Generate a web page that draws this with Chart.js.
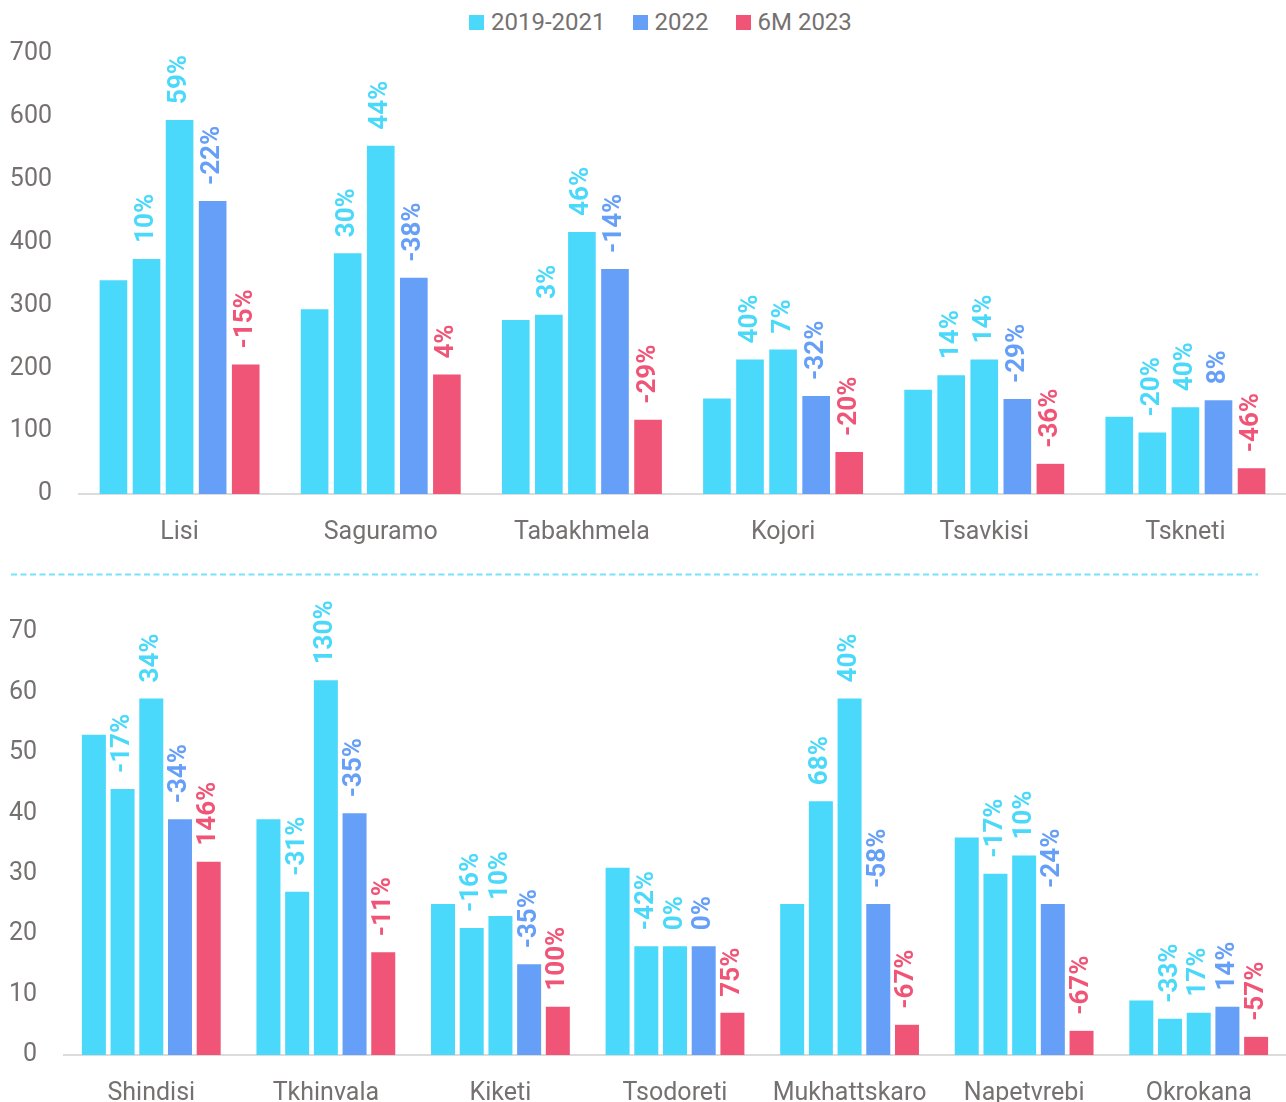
<!DOCTYPE html>
<html>
<head>
<meta charset="utf-8">
<script src="https://cdn.jsdelivr.net/npm/chart.js@4.4.1/dist/chart.umd.min.js"></script>
<style>
html, body { margin: 0; padding: 0; background: #fff; overflow: hidden; width: 1286px; height: 1102px; }
#legend { position: absolute; left: 469px; top: 8px; display: flex; gap: 27px; font: 24px Roboto; color: #767171; }
#legend .item { display: flex; align-items: center; }
#legend .box { width: 15px; height: 15px; margin-right: 7px; }
#top { position: absolute; left: 0; top: 0; }
#bottom { position: absolute; left: 0; top: 590px; }
</style>
</head>
<body>
<div id="legend"></div>
<canvas id="top" width="1286" height="590"></canvas>
<canvas id="bottom" width="1286" height="530"></canvas>
<script>
// colours
var cyan = '#4ad9fa', blue = '#669ff7', red = '#f05577', grey = '#767171';

var legendNames = ['2019-2021', '2022', '6M 2023'];
var legendColors = [cyan, blue, red];

// upper panel
var topCats = ['Lisi', 'Saguramo', 'Tabakhmela', 'Kojori', 'Tsavkisi', 'Tskneti'];
var top2019 = [340, 294, 277, 152, 166, 123];
var top2020 = [374, 383, 285, 214, 189, 98];
var top2021 = [595, 554, 417, 230, 214, 138];
var top2022 = [466, 344, 358, 156, 151, 149];
var top2023 = [206, 190, 118, 67, 48, 41];
var topPct2020 = ['10%', '30%', '3%', '40%', '14%', '-20%'];
var topPct2021 = ['59%', '44%', '46%', '7%', '14%', '40%'];
var topPct2022 = ['-22%', '-38%', '-14%', '-32%', '-29%', '8%'];
var topPct2023 = ['-15%', '4%', '-29%', '-20%', '-36%', '-46%'];
var topTicks = [0, 100, 200, 300, 400, 500, 600, 700];

// lower panel
var botCats = ['Shindisi', 'Tkhinvala', 'Kiketi', 'Tsodoreti', 'Mukhattskaro', 'Napetvrebi', 'Okrokana'];
var bot2019 = [53, 39, 25, 31, 25, 36, 9];
var bot2020 = [44, 27, 21, 18, 42, 30, 6];
var bot2021 = [59, 62, 23, 18, 59, 33, 7];
var bot2022 = [39, 40, 15, 18, 25, 25, 8];
var bot2023 = [32, 17, 8, 7, 5, 4, 3];
var botPct2020 = ['-17%', '-31%', '-16%', '-42%', '68%', '-17%', '-33%'];
var botPct2021 = ['34%', '130%', '10%', '0%', '40%', '10%', '17%'];
var botPct2022 = ['-34%', '-35%', '-35%', '0%', '-58%', '-24%', '14%'];
var botPct2023 = ['146%', '-11%', '100%', '75%', '-67%', '-67%', '-57%'];
var botTicks = [0, 10, 20, 30, 40, 50, 60, 70];

Chart.defaults.font.family = 'Roboto';

// html legend
var lg = document.getElementById('legend');
legendNames.forEach(function (name, i) {
    var it = document.createElement('div');
    it.className = 'item';
    it.innerHTML = '<span class="box" style="background:' + legendColors[i] + '"></span><span>' + name + '</span>';
    lg.appendChild(it);
});

// rotated percent labels above the bars
var pctLabels = {
    id: 'pctLabels',
    afterDatasetsDraw: function (chart) {
        var ctx = chart.ctx;
        ctx.save();
        ctx.font = 'bold 26px Roboto';
        ctx.textAlign = 'left';
        ctx.textBaseline = 'middle';
        chart.data.datasets.forEach(function (ds, di) {
            if (!ds.pct) return;
            ctx.fillStyle = ds.backgroundColor;
            chart.getDatasetMeta(di).data.forEach(function (bar, i) {
                ctx.save();
                ctx.translate(bar.x, bar.y - 16);
                ctx.rotate(-Math.PI / 2);
                ctx.fillText(ds.pct[i], 0, 0);
                ctx.restore();
            });
        });
        ctx.restore();
    }
};

// dashed separator between the panels
var divider = {
    id: 'divider',
    afterDraw: function (chart) {
        var c = chart.ctx;
        c.save();
        c.strokeStyle = 'rgba(74,217,250,0.75)';
        c.lineWidth = 2;
        c.setLineDash([6, 3.5]);
        c.beginPath();
        c.moveTo(11, 574.5);
        c.lineTo(1258, 574.5);
        c.stroke();
        c.restore();
    }
};

function makeChart(id, cats, series, pcts, ticks, yWidth, xHeight, padTop, extraPlugins) {
    var colors = [cyan, cyan, cyan, blue, red];
    var datasets = series.map(function (s, i) {
        return {
            data: s,
            backgroundColor: colors[i],
            borderWidth: 0,
            pct: pcts[i],
            categoryPercentage: 0.822,
            barPercentage: 0.836
        };
    });
    return new Chart(document.getElementById(id), {
        type: 'bar',
        data: { labels: cats, datasets: datasets },
        options: {
            responsive: false,
            animation: false,
            events: [],
            layout: { padding: { top: padTop, left: 0, right: 0, bottom: 0 } },
            plugins: { legend: { display: false }, tooltip: { enabled: false } },
            scales: {
                x: {
                    grid: { display: false, drawTicks: false },
                    border: { color: '#dcdcdc', width: 2 },
                    ticks: { color: grey, font: { size: 25 }, padding: 24, maxRotation: 0 },
                    afterFit: function (s) { s.height = xHeight; }
                },
                y: {
                    min: ticks[0],
                    max: ticks[ticks.length - 1],
                    afterBuildTicks: function (s) { s.ticks = ticks.map(function (v) { return { value: v }; }); },
                    grid: { display: false, drawTicks: false },
                    border: { display: false },
                    ticks: { color: grey, font: { size: 25 }, padding: 27 },
                    afterFit: function (s) { s.width = yWidth; }
                }
            }
        },
        plugins: [pctLabels].concat(extraPlugins)
    });
}

makeChart('top', topCats,
    [top2019, top2020, top2021, top2022, top2023],
    [null, topPct2020, topPct2021, topPct2022, topPct2023],
    topTicks, 79, 96, 54, [divider]);

makeChart('bottom', botCats,
    [bot2019, bot2020, bot2021, bot2022, bot2023],
    [null, botPct2020, botPct2021, botPct2022, botPct2023],
    botTicks, 64, 65, 28, []);
</script>
</body>
</html>
